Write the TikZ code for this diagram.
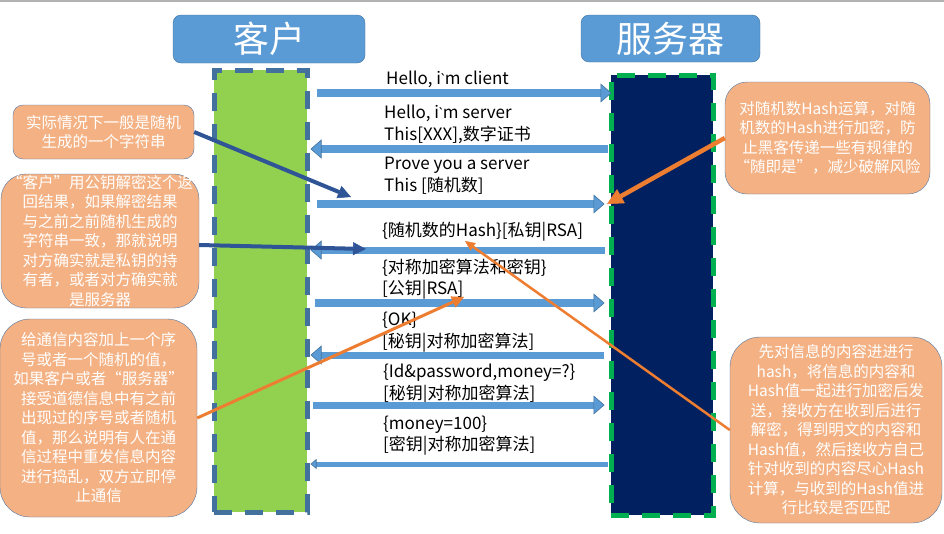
\documentclass[tikz,border=0pt]{standalone}
\usepackage{fontspec}
\newfontfamily\cjk{Noto Sans CJK SC}[Ligatures=TeXOff]
\newfontfamily\latin{Noto Sans}[Ligatures=TeXOff]
\usetikzlibrary{arrows.meta}
\definecolor{headfill}{HTML}{5B9BD5}
\definecolor{headline}{HTML}{41719C}
\definecolor{clientfill}{HTML}{92D050}
\definecolor{serverfill}{HTML}{002060}
\definecolor{serverline}{HTML}{00B050}
\definecolor{msgfill}{HTML}{5B9BD5}
\definecolor{msgline}{HTML}{41719C}
\definecolor{notefill}{HTML}{F4B183}
\definecolor{noteline}{HTML}{5378A6}
\definecolor{linkblue}{HTML}{2F5597}
\definecolor{linkorange}{HTML}{ED7D31}
\newcommand{\grv}{{\latin\fontsize{14}{14}\selectfont`}}
\tikzset{
  head/.style={draw=headline, fill=headfill, rounded corners=8pt, text=white,
    font=\cjk\fontsize{36}{40}\selectfont},
  life/.style={line width=5pt, dash pattern=on 18pt off 13pt},
  msgtxt/.style={anchor=west, align=left, text=black,
    font=\cjk\fontsize{17}{21.5}\selectfont},
  msgr/.style={draw=msgfill, line width=8.5pt, shorten <=7pt, shorten >=-3pt,
    -{Triangle[length=11pt,width=19pt,line width=0.6pt,color=msgline,fill=msgfill]}},
  msgl/.style={draw=msgfill, line width=8.5pt, shorten <=1pt, shorten >=1pt,
    -{Triangle[length=11pt,width=19pt,line width=0.6pt,color=msgline,fill=msgfill]}},
  note/.style={draw=noteline, fill=notefill, text=white, align=center,
    font=\cjk\fontsize{15.5}{19.5}\selectfont},
  linkb/.style={draw=linkblue, line width=4pt,
    -{Triangle[length=13pt,width=13pt,line width=0.5pt]}},
  linko/.style={draw=linkorange, line width=3pt,
    -{Triangle[length=12pt,width=12pt,line width=0.5pt]}}
}
\begin{document}
\begin{tikzpicture}[x=1pt,y=-1pt]
  \tikzstyle{every node}+=[inner sep=0pt]
  \useasboundingbox (0,0) rectangle (944,533);
  \draw[gray!60, line width=2pt] (0,1) -- (944,1);
  \node[head, minimum width=192, minimum height=48] (kehu) at (269,39) {客户};
  \node[head, minimum width=179, minimum height=47] (fwq) at (670.5,38.5) {服务器};
  \node[life, draw=headline, fill=clientfill, minimum width=93, minimum height=442] (client) at (260.5,291) {};
  \node[life, draw=serverline, fill=serverfill, minimum width=102, minimum height=440] (server) at (662,295) {};
  \node[msgtxt] (m1) at (386,79) {Hello, i\grv m client};
  \node[msgtxt] (m2) at (384,124.5) {Hello, i\grv m server\\This[XXX],数字证书};
  \node[msgtxt] (m3) at (384,175.5) {Prove you a server\\This [随机数]};
  \node[msgtxt] (m4) at (382,232) {\{随机数的Hash\}[私钥|RSA]};
  \node[msgtxt] (m5) at (382,279) {\{对称加密算法和密钥\}\\{}[公钥|RSA]};
  \node[msgtxt] (m6) at (382,332) {\{OK\}\\{}[秘钥|对称加密算法]};
  \node[msgtxt] (m7) at (383,384) {\{Id\&password,money=?\}\\{}[秘钥|对称加密算法]};
  \node[msgtxt] (m8) at (383,435.5) {\{money=100\}\\{}[密钥|对称加密算法]};
  \draw[msgr] (client.east |- 0,93) -- (server.west |- 0,93);
  \draw[msgl] (server.west |- 0,149) -- (client.east |- 0,149);
  \draw[msgr, shorten >=4pt] (client.east |- 0,204) -- (server.west |- 0,204);
  \draw[msgl, shorten <=4pt, line width=7pt] (server.west |- 0,250) -- (client.east |- 0,250);
  \draw[msgr, shorten <=5pt, shorten >=4pt] (client.east |- 0,303) -- (server.west |- 0,303);
  \draw[msgl, shorten <=5pt, line width=7pt] (server.west |- 0,355) -- (client.east |- 0,355);
  \draw[msgr, shorten <=3pt, shorten >=4pt, line width=7pt] (client.east |- 0,405) -- (server.west |- 0,405);
  \draw[msgl, line width=5pt, -{Triangle[length=6pt,width=10pt,line width=0.6pt,color=msgline,fill=msgfill]}] (server.west |- 0,464) -- (client.east |- 0,464);
  \node[note, rounded corners=10pt, minimum width=181, minimum height=54] (tipA) at (103.5,132) {实际情况下一般是随机\\生成的一个字符串};
  \node[note, rounded corners=25pt, minimum width=198, minimum height=134] (tipB) at (100,241) {“客户”用公钥解密这个返\\回结果，如果解密结果\\与之前之前随机生成的\\字符串一致，那就说明\\对方确实就是私钥的持\\有者，或者对方确实就\\是服务器};
  \node[note, rounded corners=30pt, minimum width=197, minimum height=198] (tipC) at (98.5,418) {给通信内容加上一个序\\号或者一个随机的值，\\如果客户或者“服务器”\\接受道德信息中有之前\\出现过的序号或者随机\\值，那么说明有人在通\\信过程中重发信息内容\\进行捣乱，双方立即停\\止通信};
  \node[note, rounded corners=22pt, minimum width=205, minimum height=112] (tipD) at (827.5,138) {对随机数Hash运算，对随\\机数的Hash进行加密，防\\止黑客传递一些有规律的\\“随即是”，减少破解风险};
  \node[note, rounded corners=30pt, minimum width=212, minimum height=186] (tipE) at (836,430) {先对信息的内容进进行\\hash，将信息的内容和\\Hash值一起进行加密后发\\送，接收方在收到后进行\\解密，得到明文的内容和\\Hash值，然后接收方自己\\针对收到的内容尽心Hash\\计算，与收到的Hash值进\\行比较是否匹配};
  \coordinate (pA) at (351,197);
  \coordinate (pB) at (366,249);
  \coordinate (pC) at (464,297);
  \coordinate (pD) at (607,204);
  \coordinate (pE) at (465,241);
  \draw[linkb] (tipA.east) -- (pA);
  \draw[linkb] ([yshift=-4pt]tipB.east) -- (pB);
  \draw[linko] (tipC.east) -- (pC);
  \draw[linko, line width=4.5pt, -{Triangle[length=16pt,width=16pt,line width=0.5pt]}] (tipD.west) -- (pD);
  \draw[linko, line width=2.5pt, -{Triangle[length=10pt,width=9pt,line width=0.5pt]}] (tipE.west) -- (pE);
\end{tikzpicture}
\end{document}
